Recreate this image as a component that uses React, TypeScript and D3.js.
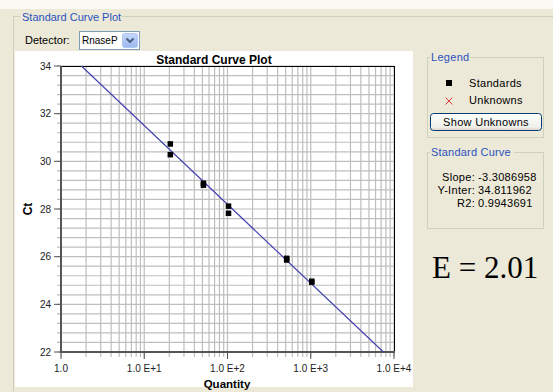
import React from "react";
import * as d3 from "d3";

// ---- data ----
const standardQuantities = [20, 20, 50, 50, 100, 100, 500, 500, 1000, 1000];
const standardCt = [30.73, 30.28, 29.08, 29.0, 28.12, 27.82, 25.93, 25.86, 24.97, 24.93];
const slope = -3.3086958;
const yIntercept = 34.811962;
const r2 = 0.9943691;
const efficiencyLabel = "E = 2.01";
const xTickValues = [1, 10, 100, 1000, 10000];
const xTickLabels = ["1.0", "1.0 E+1", "1.0 E+2", "1.0 E+3", "1.0 E+4"];
const yTickValues = [22, 24, 26, 28, 30, 32, 34];
const detectorName = "RnaseP";

const W = 553;
const H = 392;
const BG = "#ECE9D8";
const UI_FONT = "'Liberation Sans', Arial, sans-serif";
const BLUE_TEXT = "#2a52be";

export default function App() {
  const x = d3.scaleLog().domain([1, 1e4]).range([61, 394]);
  const y = d3.scaleLinear().domain([22, 34]).range([352, 66]);

  // minor log gridlines
  const vGrid: number[] = [];
  for (let d = 0; d < 4; d++) {
    for (let m = 1; m <= 9; m++) vGrid.push(m * Math.pow(10, d));
  }
  vGrid.push(1e4);
  const hGrid = d3.range(0, 31).map((i) => 22 + i * 0.4);

  // regression line
  const line = d3
    .line<number>()
    .x((q) => x(q))
    .y((q) => y(yIntercept + slope * Math.log10(q)));
  const qStart = Math.pow(10, (34 - yIntercept) / slope);
  const qEnd = Math.pow(10, (22 - yIntercept) / slope);
  const linePath = line([qStart, qEnd]) || "";

  const ms = 5.5;

  return (
    <svg
      width={W}
      height={H}
      style={{ position: "fixed", left: 0, top: 0, display: "block" }}
      fontFamily={UI_FONT}
    >
      <defs>
        <linearGradient id="btnGrad" x1="0" y1="0" x2="0" y2="1">
          <stop offset="0" stopColor="#FFFFFF" />
          <stop offset="0.8" stopColor="#F0F0EA" />
          <stop offset="1" stopColor="#D6D0C5" />
        </linearGradient>
        <linearGradient id="ddGrad" x1="0" y1="0" x2="0" y2="1">
          <stop offset="0" stopColor="#C6D8FB" />
          <stop offset="1" stopColor="#9CB8EE" />
        </linearGradient>
        <clipPath id="plotClip">
          <rect x={61} y={66} width={333} height={286} />
        </clipPath>
      </defs>

      {/* backgrounds */}
      <rect x={0} y={0} width={W} height={H} fill={BG} />
      <rect x={0} y={0} width={W} height={9} fill="#FAF9F4" />

      {/* outer group box */}
      <rect x={13.5} y={16.5} width={560} height={400} fill="none" stroke="#D0D0BF" />
      <rect x={20} y={10} width={102} height={14} fill={BG} />
      <text x={22} y={21} fontSize={11} fill={BLUE_TEXT}>
        Standard Curve Plot
      </text>

      {/* detector */}
      <text x={25} y={44} fontSize={11} fill="#000">
        Detector:
      </text>
      <rect x={79.5} y={31.5} width={60} height={18} fill="#FFFFFF" stroke="#7F9DB9" />
      <text x={82} y={44} fontSize={10} fill="#000">
        {detectorName}
      </text>
      <rect x={122.5} y={33.5} width={15} height={14} rx={2} fill="url(#ddGrad)" stroke="#B1C6F0" />
      <path d="M126.5,38.5 L130,42 L133.5,38.5" fill="none" stroke="#4D6185" strokeWidth={2} />

      {/* white plot panel */}
      <rect x={15} y={51} width={398} height={336} fill="#FFFFFF" />

      {/* title */}
      <text x={214} y={64} fontSize={12} fontWeight="bold" textAnchor="middle" fill="#000">
        Standard Curve Plot
      </text>

      {/* grid */}
      <g stroke="#BEBEBE" strokeWidth={1.2}>
        {vGrid.map((v, i) => (
          <line key={"v" + i} x1={x(v)} x2={x(v)} y1={66} y2={357} />
        ))}
        {hGrid.map((v, i) => (
          <line key={"h" + i} x1={57} x2={394} y1={y(v)} y2={y(v)} />
        ))}
      </g>

      {/* frame */}
      <line x1={61} x2={394.5} y1={66.5} y2={66.5} stroke="#000" strokeWidth={1} />
      <line x1={394.5} x2={394.5} y1={66} y2={352} stroke="#000" strokeWidth={1} />
      <line x1={61} x2={61} y1={66} y2={353} stroke="#555" strokeWidth={2} />
      <line x1={60} x2={395} y1={352} y2={352} stroke="#555" strokeWidth={2} />

      {/* y ticks */}
      {yTickValues.map((v) => (
        <g key={"yt" + v}>
          <line x1={54} x2={61} y1={y(v)} y2={y(v)} stroke="#555" strokeWidth={1} />
          <text x={51} y={y(v) + 3.5} fontSize={10} textAnchor="end" fill="#222">
            {v}
          </text>
        </g>
      ))}
      {/* x ticks */}
      {xTickValues.map((v, i) => (
        <g key={"xt" + v}>
          <line x1={x(v)} x2={x(v)} y1={352} y2={359} stroke="#555" strokeWidth={1} />
          <text x={x(v)} y={372} fontSize={10} textAnchor="middle" fill="#222">
            {xTickLabels[i]}
          </text>
        </g>
      ))}

      {/* axis titles */}
      <text x={227} y={388} fontSize={11.5} fontWeight="bold" textAnchor="middle" fill="#000">
        Quantity
      </text>
      <text
        transform={`translate(32, ${(66 + 352) / 2}) rotate(-90)`}
        fontSize={12}
        fontWeight="bold"
        textAnchor="middle"
        fill="#000"
      >
        Ct
      </text>

      {/* regression line */}
      <path d={linePath} stroke="#3F3FB0" strokeWidth={1.2} fill="none" clipPath="url(#plotClip)" />

      {/* standards */}
      {standardQuantities.map((q, i) => (
        <rect
          key={"s" + i}
          x={x(q) - ms / 2 + 1}
          y={y(standardCt[i]) - ms / 2}
          width={ms}
          height={ms}
          fill="#000"
        />
      ))}

      {/* Legend group box */}
      <rect x={427.5} y={57.5} width={116} height={80} fill="none" stroke="#D0D0BF" />
      <rect x={430} y={50} width={40} height={14} fill={BG} />
      <text x={431} y={61} fontSize={11} fill={BLUE_TEXT} letterSpacing={0.3}>
        Legend
      </text>
      <rect x={446} y={80} width={6} height={6} fill="#000" />
      <text x={469} y={87} fontSize={11} fill="#000" letterSpacing={0.3}>
        Standards
      </text>
      <path d="M445.5,97.5 L452.5,104.5 M452.5,97.5 L445.5,104.5" stroke="#E03A3A" strokeWidth={1} />
      <text x={469} y={104} fontSize={11} fill="#000" letterSpacing={0.3}>
        Unknowns
      </text>
      <rect x={430.5} y={113.5} width={111} height={17} rx={3} fill="url(#btnGrad)" stroke="#003C74" />
      <text x={486} y={126} fontSize={11} fill="#000" textAnchor="middle" letterSpacing={0.3}>
        Show Unknowns
      </text>

      {/* Standard Curve group box */}
      <rect x={427.5} y={152.5} width={116} height={76} fill="none" stroke="#D0D0BF" />
      <rect x={430} y={145} width={84} height={14} fill={BG} />
      <text x={431} y={156} fontSize={11} fill={BLUE_TEXT} letterSpacing={0.2}>
        Standard Curve
      </text>
      <g fontSize={11} fill="#000" letterSpacing={0.3}>
        <text x={475} y={181} textAnchor="end">Slope:</text>
        <text x={478} y={181}>{slope.toFixed(7)}</text>
        <text x={475} y={194} textAnchor="end">Y-Inter:</text>
        <text x={478} y={194}>{yIntercept.toFixed(6)}</text>
        <text x={475} y={207} textAnchor="end">R2:</text>
        <text x={478} y={207}>{r2.toFixed(7)}</text>
      </g>

      {/* efficiency */}
      <text x={432} y={278} fontSize={31} fontFamily="'Liberation Serif', 'Times New Roman', serif" fill="#000">
        {efficiencyLabel}
      </text>
    </svg>
  );
}
